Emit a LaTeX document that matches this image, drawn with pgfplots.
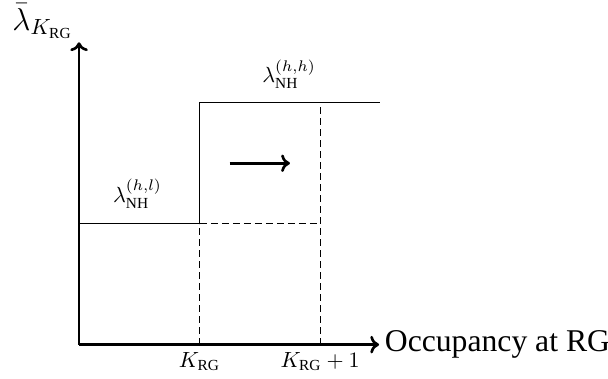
\documentclass[border=0pt]{standalone}
\usepackage{fontspec}
\setmainfont{Liberation Serif}
\usepackage{pgfplots}
\pgfplotsset{compat=1.18}
\usetikzlibrary{arrows.meta}
\begin{document}
\begin{tikzpicture}
\begin{axis}[
  x=54.8pt, y=55pt,
  xmin=0, xmax=2.49, ymin=0, ymax=2.5,
  axis lines=left,
  x axis line style={line width=1.2pt, -{To[length=4pt,width=8pt]}},
  y axis line style={line width=1.2pt, -{To[length=4pt,width=8pt]}},
  xtick={1,2}, xticklabels={$K_{\mathrm{RG}}$, $K_{\mathrm{RG}}+1$},
  ytick=\empty,
  major tick length=0pt,
  clip=false,
]
\addplot[const plot, line width=0.4pt, mark=none] coordinates {(0,1) (1,2) (2.5,2)};
\addplot[dash pattern=on 3pt off 2pt, line width=0.5pt, mark=none] coordinates {(0,1) (2,1)};
\addplot[dash pattern=on 3pt off 2pt, line width=0.45pt, mark=none] coordinates {(1,0) (1,1)};
\addplot[dash pattern=on 3pt off 2pt, line width=0.45pt, mark=none] coordinates {(2,0) (2,1.97)};
\addplot[line width=1.2pt, -{To[length=4pt,width=8pt]}, mark=none] coordinates {(1.25,1.5) (1.75,1.5)};
\node at (axis cs:1.743,2.236) {$\lambda_{\mathrm{NH}}^{(h,h)}$};
\node at (axis cs:0.485,1.248) {$\lambda_{\mathrm{NH}}^{(h,l)}$};
\node[anchor=base west, inner sep=0pt, font=\Large] at (axis cs:2.535,-0.058) {Occupancy at RG};
\node[anchor=base west, inner sep=0pt, font=\Large] at (axis cs:-0.556,2.60) {$\bar{\lambda}_{K_{\mathrm{RG}}}$};
\coordinate (bl) at (axis cs:-0.656,-0.281);
\coordinate (tr) at (axis cs:4.39,2.85);
\end{axis}
\pgfresetboundingbox
\path[use as bounding box] (bl) rectangle (tr);
\end{tikzpicture}
\end{document}
